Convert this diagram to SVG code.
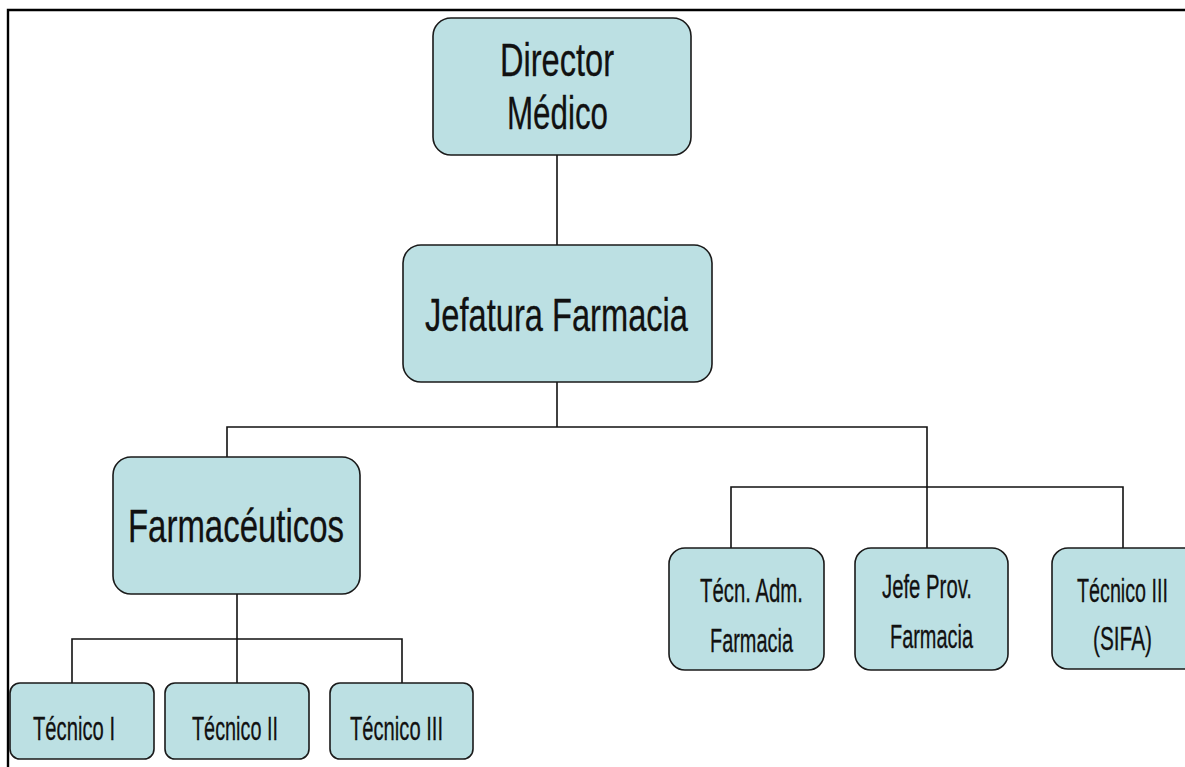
<svg xmlns="http://www.w3.org/2000/svg" width="1185" height="767" viewBox="0 0 1185 767">
  <style>
    .box { fill: #bce0e3; stroke: #1a1a1a; stroke-width: 1.6; }
    .wire { fill: none; stroke: #111; stroke-width: 1.6; }
    .frame { fill: none; stroke: #000; stroke-width: 2.4; }
    text { font-family: "Liberation Sans", Arial, sans-serif; fill: #111; stroke: #111; stroke-width: 0.3; }
    .big { font-size: 46px; }
    .mid { font-size: 34px; }
  </style>
  <rect width="1185" height="767" fill="#fff"/>

  <!-- page frame: top and left edges -->
  <path class="frame" d="M8 767 V10 H1185"/>

  <!-- connectors -->
  <g id="connectors">
    <path class="wire" d="M557 155 V245"/>
    <path class="wire" d="M557 382 V427"/>
    <path class="wire" d="M227 457 V427 H927 V548"/>
    <path class="wire" d="M731 548 V487 H1123 V548"/>
    <path class="wire" d="M237 594 V683"/>
    <path class="wire" d="M72 683 V639 H402 V683"/>
  </g>

  <g id="director">
    <rect class="box" x="433" y="18" width="258" height="137" rx="18"/>
    <text class="big" x="500" y="76" textLength="114" lengthAdjust="spacingAndGlyphs">Director</text>
    <text class="big" x="507" y="129" textLength="101" lengthAdjust="spacingAndGlyphs">Médico</text>
  </g>

  <g id="jefatura">
    <rect class="box" x="403" y="245" width="309" height="137" rx="18"/>
    <text class="big" x="425" y="331" textLength="263" lengthAdjust="spacingAndGlyphs">Jefatura Farmacia</text>
  </g>

  <g id="farmaceuticos">
    <rect class="box" x="113" y="457" width="247" height="137" rx="18"/>
    <text class="big" x="128" y="542" textLength="216" lengthAdjust="spacingAndGlyphs">Farmacéuticos</text>
  </g>

  <g id="tecnico-1">
    <rect class="box" x="10" y="683" width="144" height="76" rx="10"/>
    <text class="mid" x="33" y="740" textLength="82" lengthAdjust="spacingAndGlyphs">Técnico I</text>
  </g>

  <g id="tecnico-2">
    <rect class="box" x="165" y="683" width="144" height="76" rx="10"/>
    <text class="mid" x="192" y="740" textLength="86" lengthAdjust="spacingAndGlyphs">Técnico II</text>
  </g>

  <g id="tecnico-3">
    <rect class="box" x="330" y="683" width="143" height="76" rx="10"/>
    <text class="mid" x="350" y="740" textLength="93" lengthAdjust="spacingAndGlyphs">Técnico III</text>
  </g>

  <g id="tecn-adm">
    <rect class="box" x="669" y="548" width="155" height="122" rx="16"/>
    <text class="mid" x="700" y="602" textLength="103" lengthAdjust="spacingAndGlyphs">Técn. Adm.</text>
    <text class="mid" x="710" y="652" textLength="83" lengthAdjust="spacingAndGlyphs">Farmacia</text>
  </g>

  <g id="jefe-prov">
    <rect class="box" x="855" y="548" width="153" height="122" rx="16"/>
    <text class="mid" x="882" y="598" textLength="90" lengthAdjust="spacingAndGlyphs">Jefe Prov.</text>
    <text class="mid" x="890" y="648" textLength="83" lengthAdjust="spacingAndGlyphs">Farmacia</text>
  </g>

  <g id="tecnico-sifa">
    <rect class="box" x="1052" y="548" width="150" height="121" rx="16"/>
    <text class="mid" x="1077" y="602" textLength="91" lengthAdjust="spacingAndGlyphs">Técnico III</text>
    <text class="mid" x="1093" y="650" textLength="59" lengthAdjust="spacingAndGlyphs">(SIFA)</text>
  </g>
</svg>
